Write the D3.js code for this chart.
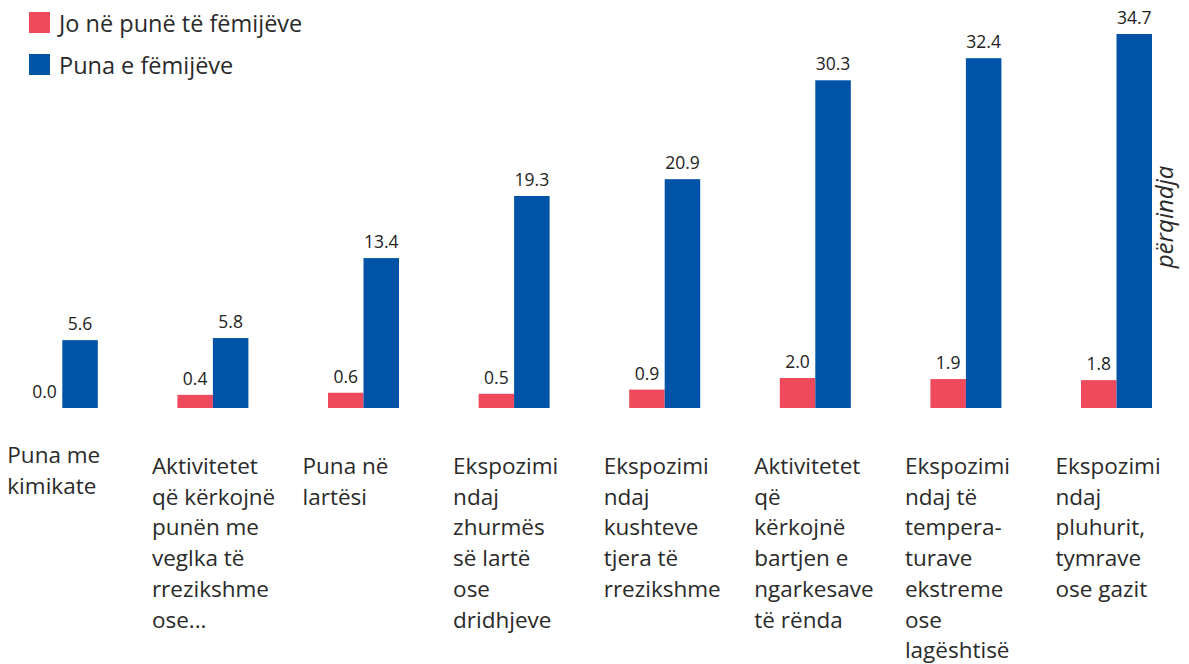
<!DOCTYPE html>
<html>
<head>
<meta charset="utf-8">
<script src="https://cdn.jsdelivr.net/npm/d3@7"></script>
<style>
  body { margin: 0; background: #fff; }
  text { font-family: "Open Sans", "Noto Sans", sans-serif; fill: #222; }
</style>
</head>
<body>
<script>
// data
var categories = [
  ["Puna me", "kimikate"],
  ["Aktivitetet", "që kërkojnë", "punën me", "veglka të", "rrezikshme", "ose..."],
  ["Puna në", "lartësi"],
  ["Ekspozimi", "ndaj", "zhurmës", "së lartë", "ose", "dridhjeve"],
  ["Ekspozimi", "ndaj", "kushteve", "tjera të", "rrezikshme"],
  ["Aktivitetet", "që", "kërkojnë", "bartjen e", "ngarkesave", "të rënda"],
  ["Ekspozimi", "ndaj të", "tempera-", "turave", "ekstreme", "ose", "lagështisë"],
  ["Ekspozimi", "ndaj", "pluhurit,", "tymrave", "ose gazit"]
];
var notInWork = [0.0, 0.4, 0.6, 0.5, 0.9, 2.0, 1.9, 1.8];
var childWork = [5.6, 5.8, 13.4, 19.3, 20.9, 30.3, 32.4, 34.7];
var seriesNames = ["Jo në punë të fëmijëve", "Puna e fëmijëve"];
var colors = ["#ef4a5c", "#0053a6"];
var yLabel = "përqindja";

var width = 1189, height = 664;

var svg = d3.select("body").append("svg")
    .attr("width", width)
    .attr("height", height);

//x: one band per category, bars split at the band centre
var idx = d3.range(categories.length);
var x = d3.scaleBand()
    .domain(idx)
    .range([-13, -13 + 150.6 * categories.length]);

var barW = 35.5;

//y: floor a bit below zero like the original
var y = d3.scaleLinear()
    .domain([-0.85, 34.7])
    .range([408, 34]);

var series = [notInWork, childWork];

series.forEach(function(vals, s) {
  var g = svg.append("g");
  g.selectAll("rect")
    .data(vals.map(function(v, i) { return {v: v, i: i}; }).filter(function(d) { return d.v > 0; }))
    .enter().append("rect")
    .attr("x", function(d) { return x(d.i) + x.bandwidth() / 2 - (s === 0 ? barW : 0); })
    .attr("width", barW)
    .attr("y", function(d) { return y(d.v); })
    .attr("height", function(d) { return y(-0.85) - y(d.v); })
    .attr("fill", colors[s]);

  g.selectAll("text")
    .data(vals.map(function(v, i) { return {v: v, i: i}; }))
    .enter().append("text")
    .attr("x", function(d) { return x(d.i) + x.bandwidth() / 2 + (s === 0 ? -barW / 2 : barW / 2); })
    .attr("y", function(d) { return (d.v > 0 ? y(d.v) : y(-0.85)) - 10; })
    .attr("text-anchor", "middle")
    .style("font-size", "17.5px")
    .text(function(d) { return d3.format(".1f")(d.v); });
});

//category labels, wrapped as in the original
var lab = svg.append("g").selectAll("text")
    .data(categories)
    .enter().append("text")
    .attr("x", function(d, i) { return x(i) + x.bandwidth() / 2 - (i === 0 ? 55 : 61); })
    .attr("y", function(d, i) { return i === 0 ? 463 : 474; })
    .style("font-size", "22.5px")
    .style("fill", "#2a2a2a");

lab.selectAll("tspan")
    .data(function(d) { return d; })
    .enter().append("tspan")
    .attr("x", function() { return d3.select(this.parentNode).attr("x"); })
    .attr("dy", function(d, j) { return j === 0 ? 0 : 30.7; })
    .text(function(d) { return d; });

//legend
var legend = svg.append("g").selectAll("g")
    .data(seriesNames)
    .enter().append("g")
    .attr("transform", function(d, i) { return "translate(29," + (12 + i * 42) + ")"; });

legend.append("rect")
    .attr("width", 21)
    .attr("height", 21)
    .attr("fill", function(d, i) { return colors[i]; });

legend.append("text")
    .attr("x", 30)
    .attr("y", 20)
    .style("font-size", "23.5px")
    .style("fill", "#2a2a2a")
    .text(function(d) { return d; });

//axis title on the right
svg.append("text")
    .attr("transform", "translate(1173,217) rotate(-90)")
    .attr("text-anchor", "middle")
    .style("font-size", "24px")
    .style("font-style", "italic")
    .style("fill", "#2a2a2a")
    .text(yLabel);
</script>
</body>
</html>
